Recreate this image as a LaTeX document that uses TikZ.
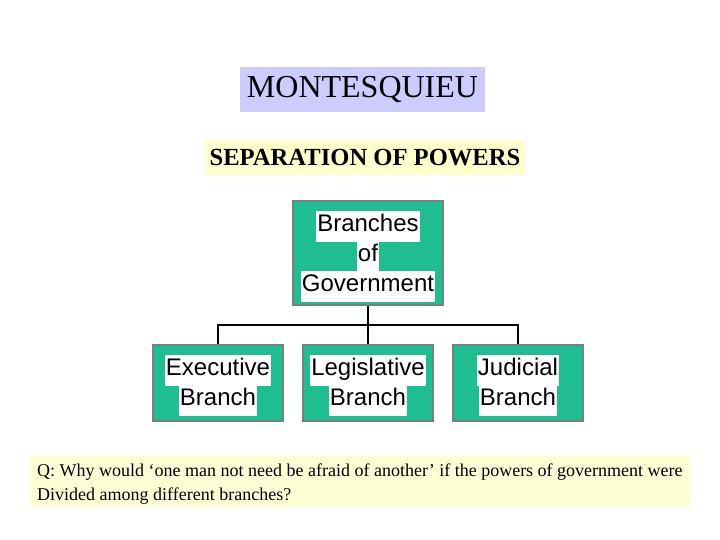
\documentclass[tikz,border=0pt]{standalone}
\usepackage{fontspec}
\setmainfont{Liberation Serif}
\newfontfamily\arialf{Liberation Sans}
\definecolor{lav}{RGB}{204,204,255}
\definecolor{lyel}{RGB}{255,255,204}
\definecolor{qyel}{RGB}{255,255,214}
\definecolor{grn}{RGB}{30,190,145}
\definecolor{bord}{RGB}{120,130,125}
\newcommand{\hlw}[1]{{\setlength{\fboxsep}{1pt}\colorbox{white}{\strut #1}}}
\begin{document}
\begin{tikzpicture}[x=1pt,y=-1pt,
  branch/.style={draw=bord,line width=2pt,fill=grn,minimum width=130pt,minimum height=76pt,align=center,font=\arialf\fontsize{24}{29}\selectfont,inner sep=0pt},
  conn/.style={line width=1.3pt,black}]
\useasboundingbox (0,0) rectangle (720,540);
\fill[white] (0,0) rectangle (720,540);
\node[fill=lav,minimum width=245pt,minimum height=45pt,inner sep=0pt,font=\fontsize{32}{38}\selectfont] (title) at (362.5,89.5) {MONTESQUIEU};
\node[fill=lyel,minimum width=320pt,minimum height=35pt,inner sep=0pt,font=\bfseries\fontsize{24.6}{28}\selectfont] (sep) at (365,157.5) {SEPARATION OF POWERS};
\node[branch,minimum width=150pt,minimum height=104pt] (gov) at (368,253) {};
\node[align=center,inner sep=0pt,font=\arialf\fontsize{24}{29}\selectfont] (govt) at (368,256) {\hlw{Branches}\\[-2pt]\hlw{of}\\[-2pt]\hlw{Government}};
\node[branch] (exe) at (218,383) {};
\node[align=center,inner sep=0pt,font=\arialf\fontsize{24}{29}\selectfont] (exet) at (218,385) {\hlw{Executive}\\[-2pt]\hlw{Branch}};
\node[branch] (leg) at (368,383) {};
\node[align=center,inner sep=0pt,font=\arialf\fontsize{24}{29}\selectfont] (legt) at (368,385) {\hlw{Legislative}\\[-2pt]\hlw{Branch}};
\node[branch] (jud) at (518,383) {};
\node[align=center,inner sep=0pt,font=\arialf\fontsize{24}{29}\selectfont] (judt) at (518,385) {\hlw{Judicial}\\[-2pt]\hlw{Branch}};
\coordinate (bar) at (368,325);
\draw[conn] (gov.south) -- (bar);
\draw[conn] (exe.north) |- (bar) -| (jud.north);
\draw[conn] (bar) -- (leg.north);
\node[fill=qyel,minimum width=660pt,minimum height=52pt,inner sep=0pt] (q) at (360,481) {};
\node[anchor=north west,align=left,inner sep=0pt,font=\fontsize{18}{24}\selectfont] (qt) at (37,463.5) {Q: Why would ‘one man not need be afraid of another’ if the powers of government were\\Divided among different branches?};
\end{tikzpicture}
\end{document}
